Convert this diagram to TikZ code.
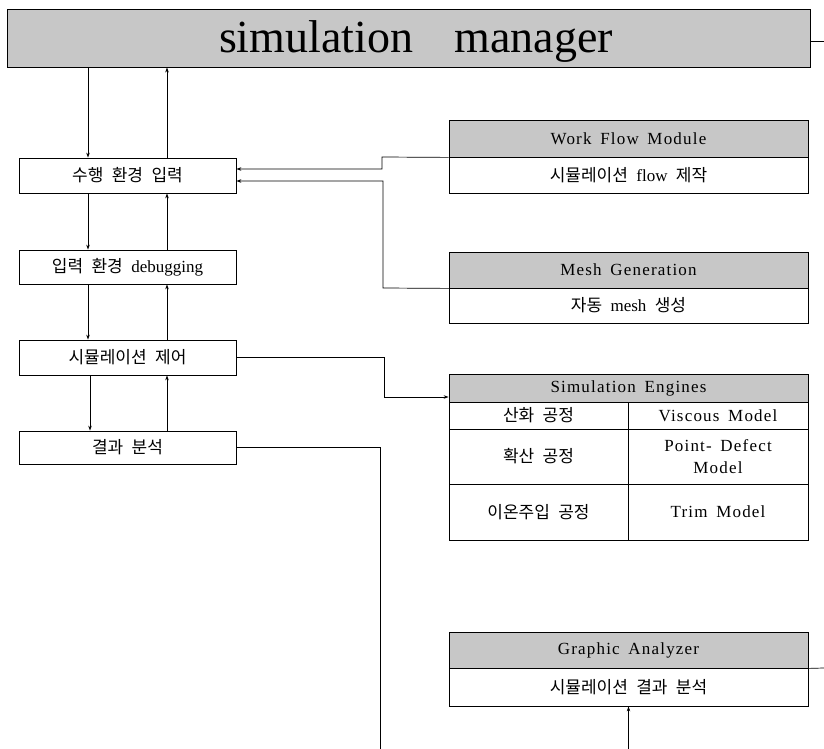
\documentclass[tikz,border=0pt]{standalone}
\usepackage{fontspec}
\setmainfont{Liberation Serif}
\newfontfamily\krfont[WordSpace=2.2]{Noto Sans CJK KR}
\newfontfamily\hdrfont[LetterSpace=7,WordSpace=1.6]{Liberation Serif}
\newcommand\latn[1]{{\rmfamily\fontsize{17}{20}\selectfont #1}}
\usetikzlibrary{arrows.meta}
\definecolor{shade}{gray}{0.78}
\begin{document}
\begin{tikzpicture}[x=1pt,y=-1pt,
  ln/.style={line width=0.7pt},
  arr/.style={line width=0.7pt,-{Stealth[length=5pt,width=3.5pt]}},
  mgrbox/.style={draw,line width=0.9pt,fill=shade,inner sep=0pt},
  lbox/.style={draw,line width=0.8pt,fill=white,inner sep=0pt,minimum width=217pt,
    font=\krfont\fontsize{17}{20}\selectfont},
  hbox/.style={draw,line width=0.8pt,fill=shade,inner sep=0pt,minimum width=359pt,
    font=\hdrfont\fontsize{17}{20}\selectfont},
  bbox/.style={draw,line width=0.8pt,fill=white,inner sep=0pt,minimum width=359pt,
    font=\krfont\fontsize{17}{20}\selectfont},
  kcell/.style={draw,line width=0.8pt,fill=white,inner sep=0pt,minimum width=179pt,
    font=\krfont\fontsize{17}{20}\selectfont},
  ecell/.style={draw,line width=0.8pt,fill=white,inner sep=0pt,minimum width=180pt,align=center,
    font=\hdrfont\fontsize{17}{22}\selectfont}]
\useasboundingbox (0,0) rectangle (824,749);

% simulation manager
\node[mgrbox,minimum width=803pt,minimum height=58pt] (mgr) at (408.5,38) {};
\node[anchor=base,inner sep=0pt,font=\fontsize{46}{50}\selectfont] (mgrtext) at (416,53) {simulation\hspace{0.9em}manager};

% left column
\node[lbox,minimum height=35pt] (in1) at (127.5,175.5) {수행 환경 입력};
\node[lbox,minimum height=34pt] (in2) at (127.5,267) {입력 환경 \latn{debugging}};
\node[lbox,minimum height=35pt] (ctl) at (127.5,357.5) {시뮬레이션 제어};
\node[lbox,minimum height=33pt] (res) at (127.5,447.5) {결과 분석};

% Work Flow Module
\node[hbox,minimum height=37pt] (wfmh) at (628.5,138.5) {Work Flow Module};
\node[bbox,minimum height=36pt] (wfmb) at (628.5,175) {시뮬레이션 \latn{flow} 제작};

% Mesh Generation
\node[hbox,minimum height=36pt] (meshh) at (628.5,270) {Mesh Generation};
\node[bbox,minimum height=35pt] (meshb) at (628.5,305.5) {자동 \latn{mesh} 생성};

% Simulation Engines
\node[hbox,minimum height=28pt] (seh) at (628.5,388) {Simulation Engines};
\node[kcell,minimum height=27pt] (se1a) at (538.5,415.5) {산화 공정};
\node[ecell,minimum height=27pt] (se1b) at (718,415.5) {Viscous Model};
\node[kcell,minimum height=55pt] (se2a) at (538.5,456.5) {확산 공정};
\node[ecell,minimum height=55pt] (se2b) at (718,456.5) {Point- Defect\\Model};
\node[kcell,minimum height=56pt] (se3a) at (538.5,512) {이온주입 공정};
\node[ecell,minimum height=56pt] (se3b) at (718,512) {Trim Model};

% Graphic Analyzer
\node[hbox,minimum height=36pt] (gah) at (628.5,650) {Graphic Analyzer};
\node[bbox,minimum height=38pt] (gab) at (628.5,687) {시뮬레이션 결과 분석};

% free ends
\coordinate (mgrR) at (824,41);
\coordinate (gaR) at (824,668);
\coordinate (resbot) at (380,749);
\coordinate (gabot) at (628.5,749);

% vertical flow on the left
\draw[arr] ([xshift=-39.5pt]in1.north |- mgr.south) -- ([xshift=-39.5pt]in1.north);
\draw[arr] ([xshift=39.5pt]in1.north) -- ([xshift=39.5pt]in1.north |- mgr.south);
\draw[arr] ([xshift=-39.5pt]in1.south) -- ([xshift=-39.5pt]in2.north);
\draw[arr] ([xshift=39.5pt]in2.north) -- ([xshift=39.5pt]in1.south);
\draw[arr] ([xshift=-39.5pt]in2.south) -- ([xshift=-39.5pt]ctl.north);
\draw[arr] ([xshift=39.5pt]ctl.north) -- ([xshift=39.5pt]in2.south);
\draw[arr] ([xshift=-37.5pt]ctl.south) -- ([xshift=-37.5pt]res.north);
\draw[arr] ([xshift=39.5pt]res.north) -- ([xshift=39.5pt]ctl.south);

% modules to the input box
\draw[arr] (wfmh.south west) -- (382,157) |- ([yshift=6.5pt]in1.east);
\draw[arr] (meshh.south west) -- (383,288) |- ([yshift=-5.5pt]in1.east);

% control to engines
\draw[arr] (ctl.east) -- (384,357.5) |- ([yshift=-9pt]seh.west);

% result analysis down
\draw[ln] (res.east) -| (resbot);

% graphic analyzer
\draw[arr] (gabot) -- (gab.south);
\draw[ln] (gah.south east) -- (gaR);

% manager right
\draw[ln] ([yshift=-3pt]mgr.east) -- (mgrR);
\end{tikzpicture}
\end{document}
